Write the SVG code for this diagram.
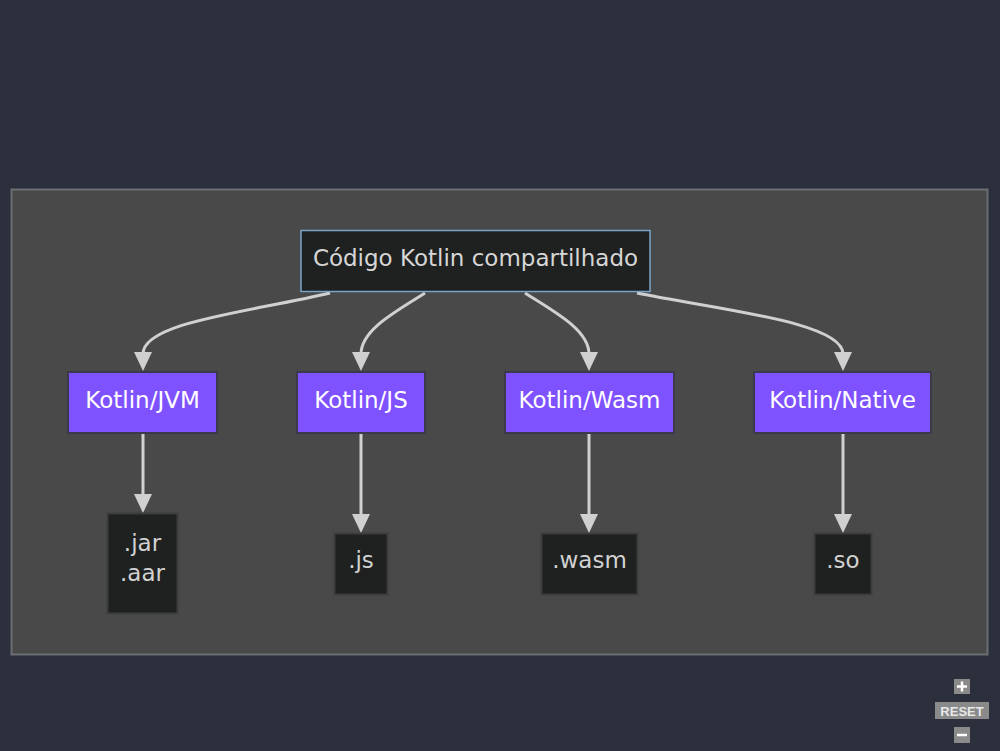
<svg xmlns="http://www.w3.org/2000/svg" width="1000" height="751" viewBox="0 0 1000 751">
<defs>
<style>
.lbl{font-family:"DejaVu Sans","Liberation Sans",sans-serif;font-size:23px;text-anchor:middle;dominant-baseline:central}
.purple rect{fill:#7f52ff;stroke:#3b3a4a;stroke-width:2}
.purple text{fill:#ffffff}
.out rect{fill:#1f2120;stroke:#3c3e3c;stroke-width:2}
.out text{fill:#d2d2d2}
.edge{fill:none;stroke:#d0d0d0;stroke-width:3}
.head{fill:#d0d0d0}
.ctl{fill:#8a8a8a}
</style>
</defs>
<rect x="0" y="0" width="1000" height="751" fill="#2b303c"/>
<rect id="cluster" x="11.5" y="189.5" width="976" height="465" fill="#484948" stroke="#6b6e72" stroke-width="2"/>

<g id="connectors">
<path class="edge" d="M330,293 C250,312 143,322 143,354"/>
<polygon class="head" points="134,352 152,352 143,371"/>
<path class="edge" d="M425,293 C395,312 361,330 361,354"/>
<polygon class="head" points="352,352 370,352 361,371"/>
<path class="edge" d="M525,293 C555,312 589,330 589,354"/>
<polygon class="head" points="580,352 598,352 589,371"/>
<path class="edge" d="M637,293 C720,310 843,322 843,354"/>
<polygon class="head" points="834,352 852,352 843,371"/>
<line class="edge" x1="143" y1="433" x2="143" y2="496"/>
<polygon class="head" points="134,494 152,494 143,513"/>
<line class="edge" x1="361" y1="433" x2="361" y2="516"/>
<polygon class="head" points="352,514 370,514 361,533"/>
<line class="edge" x1="589" y1="433" x2="589" y2="516"/>
<polygon class="head" points="580,514 598,514 589,533"/>
<line class="edge" x1="843" y1="433" x2="843" y2="516"/>
<polygon class="head" points="834,514 852,514 843,533"/>
</g>

<g id="shared">
<rect x="301" y="230.5" width="349" height="61" fill="#1f2020" stroke="#7ba4c9" stroke-width="1.5"/>
<text class="lbl" x="475.5" y="258" fill="#d6d6d6">Código Kotlin compartilhado</text>
</g>

<g id="jvm" class="purple">
<rect x="68" y="372" width="149" height="61"/>
<text class="lbl" x="142.5" y="400">Kotlin/JVM</text>
</g>
<g id="js" class="purple">
<rect x="297" y="372" width="128" height="61"/>
<text class="lbl" x="361" y="400">Kotlin/JS</text>
</g>
<g id="wasm" class="purple">
<rect x="505" y="372" width="169" height="61"/>
<text class="lbl" x="589.5" y="400">Kotlin/Wasm</text>
</g>
<g id="native" class="purple">
<rect x="754" y="372" width="177" height="61"/>
<text class="lbl" x="842.5" y="400">Kotlin/Native</text>
</g>

<g id="jar" class="out">
<rect x="107.5" y="513.5" width="70" height="100"/>
<text class="lbl" x="142.5" y="543">.jar</text>
<text class="lbl" x="142.5" y="573">.aar</text>
</g>
<g id="jsout" class="out">
<rect x="334.5" y="533.5" width="53" height="61"/>
<text class="lbl" x="361" y="560">.js</text>
</g>
<g id="wasmout" class="out">
<rect x="541.5" y="533.5" width="96" height="61"/>
<text class="lbl" x="589.5" y="560">.wasm</text>
</g>
<g id="so" class="out">
<rect x="814.5" y="533.5" width="57" height="61"/>
<text class="lbl" x="843" y="560">.so</text>
</g>

<g id="controls">
<rect class="ctl" x="954" y="679" width="16" height="15"/>
<path d="M962,681.5 V691.5 M957,686.5 H967" stroke="#ffffff" stroke-width="2.5"/>
<rect class="ctl" x="935" y="702" width="54" height="17"/>
<text x="962" y="711" font-family="Liberation Sans,sans-serif" font-size="13" font-weight="bold" fill="#e8e8e8" text-anchor="middle" dominant-baseline="central">RESET</text>
<rect class="ctl" x="954" y="727" width="16" height="16"/>
<path d="M957,735 H967" stroke="#ffffff" stroke-width="2.5"/>
</g>
</svg>
